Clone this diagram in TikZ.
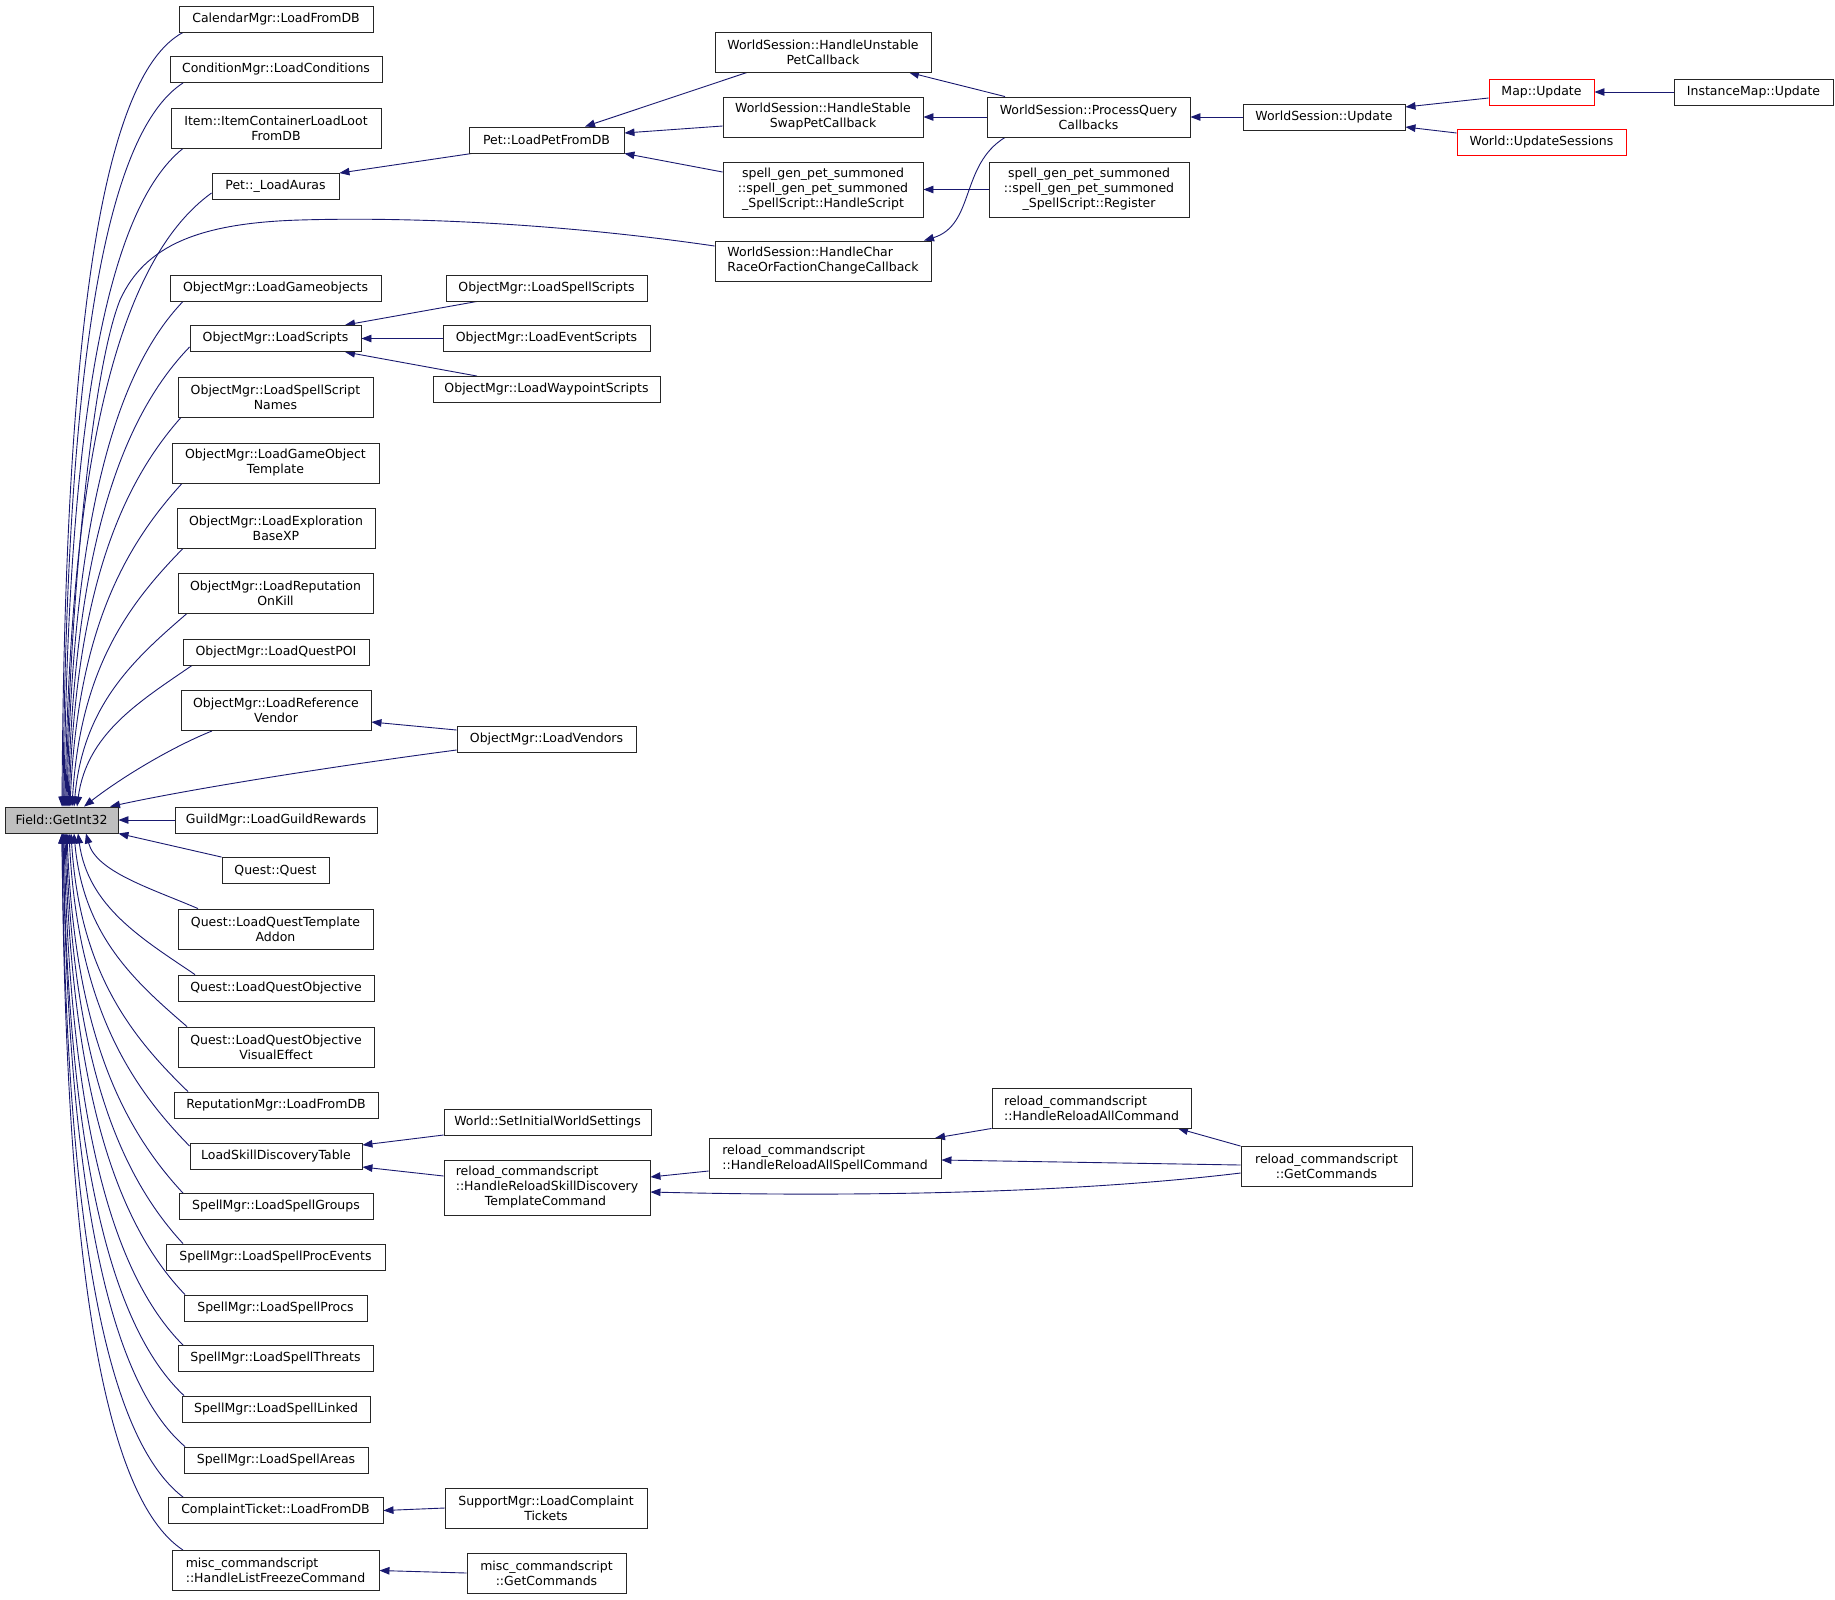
\documentclass[tikz,border=0pt]{standalone}
\usepackage{fontspec}
\setmainfont{DejaVu Sans}
\usetikzlibrary{arrows.meta}
\pgfdeclarelayer{back}
\pgfdeclarelayer{bg}
\pgfsetlayers{back,bg,main}
\definecolor{navy}{RGB}{25,25,112}
\definecolor{gfill}{RGB}{191,191,191}
\newcommand\fanup[3]{%
 \pgfmathsetmacro\fdx{#2-#3}%
 \pgfmathsetmacro\fdy{807-\fsy}%
 \pgfmathsetmacro\ff{\fdy/800}%
 \pgfmathsetmacro\fax{#2-(0.4+0.3*\ff)*\fdx}%
 \pgfmathsetmacro\fay{\fsy+(0.3-0.25*\ff)*\fdy}%
 \pgfmathsetmacro\fbx{#3+(0.1-0.08*\ff)*\fdx}%
 \pgfmathsetmacro\fby{807-(0.5+0.1*\ff)*\fdy}%
 \draw[conn] (#1) .. controls (\fax,\fay) and (\fbx,\fby) .. (get.north -| #3,0);}
\newcommand\fandown[3]{%
 \pgfmathsetmacro\fdx{#2-#3}%
 \pgfmathsetmacro\fdy{\fsy-833}%
 \pgfmathsetmacro\ff{\fdy/800}%
 \pgfmathsetmacro\fax{#2-(0.4+0.3*\ff)*\fdx}%
 \pgfmathsetmacro\fay{\fsy-(0.3-0.25*\ff)*\fdy}%
 \pgfmathsetmacro\fbx{#3+(0.1-0.08*\ff)*\fdx}%
 \pgfmathsetmacro\fby{833+(0.5+0.1*\ff)*\fdy}%
 \draw[conn] (#1) .. controls (\fax,\fay) and (\fbx,\fby) .. (get.south -| #3,0);}
\begin{document}
\begin{tikzpicture}[x=1pt,y=-1pt,
  box/.style={draw=black!85, fill=white, line width=0.9pt, inner sep=0pt, align=center,
    font=\fontsize{12.5}{15}\selectfont},
  hA/.style={minimum height=26pt},
  hB/.style={minimum height=40pt},
  hC/.style={minimum height=55pt},
  redbox/.style={draw=red},
  conn/.style={draw=navy, line width=0.9pt, -{Triangle[length=10pt,width=7.5pt]}}]
\begin{pgfonlayer}{back}
\fill[white] (0,0) rectangle (1835,1599);
\end{pgfonlayer}
\useasboundingbox (0,0) rectangle (1835,1599);
% left column
\node[box,hA,minimum width=113pt,fill=gfill] (get) at (61.5,820) {Field::GetInt32};
\node[box,hA,minimum width=194pt] (cal) at (276,19) {CalendarMgr::LoadFromDB};
\node[box,hA,minimum width=212pt] (cond) at (276,69.5) {ConditionMgr::LoadConditions};
\node[box,hB,minimum width=210pt] (item) at (276,128) {Item::ItemContainerLoadLoot\\FromDB};
\node[box,hA,minimum width=127pt] (aura) at (275.5,186.5) {Pet::\_LoadAuras};
\node[box,hA,minimum width=211pt] (gameobj) at (275.5,288) {ObjectMgr::LoadGameobjects};
\node[box,hA,minimum width=171pt] (scripts) at (275.5,338.5) {ObjectMgr::LoadScripts};
\node[box,hB,minimum width=195pt] (spellnames) at (275.5,397) {ObjectMgr::LoadSpellScript\\Names};
\node[box,hB,minimum width=207pt] (gotemplate) at (275.5,463) {ObjectMgr::LoadGameObject\\Template};
\node[box,hB,minimum width=198pt] (exploration) at (276,528) {ObjectMgr::LoadExploration\\BaseXP};
\node[box,hB,minimum width=195pt] (onkill) at (275.5,593) {ObjectMgr::LoadReputation\\OnKill};
\node[box,hA,minimum width=186pt] (questpoi) at (276,652) {ObjectMgr::LoadQuestPOI};
\node[box,hB,minimum width=190pt] (refvendor) at (276,710.5) {ObjectMgr::LoadReference\\Vendor};
\node[box,hA,minimum width=202pt] (guild) at (276,820) {GuildMgr::LoadGuildRewards};
\node[box,hA,minimum width=107pt] (quest) at (275.5,870.5) {Quest::Quest};
\node[box,hB,minimum width=195pt] (addon) at (275.5,929) {Quest::LoadQuestTemplate\\Addon};
\node[box,hA,minimum width=196pt] (questobj) at (276,988) {Quest::LoadQuestObjective};
\node[box,hB,minimum width=196pt] (visual) at (276,1047) {Quest::LoadQuestObjective\\VisualEffect};
\node[box,hA,minimum width=204pt] (repmgr) at (276,1105) {ReputationMgr::LoadFromDB};
\node[box,hA,minimum width=172pt] (skilltable) at (276,1156) {LoadSkillDiscoveryTable};
\node[box,hA,minimum width=194pt] (groups) at (276,1206.5) {SpellMgr::LoadSpellGroups};
\node[box,hA,minimum width=219pt] (procevents) at (275.5,1257) {SpellMgr::LoadSpellProcEvents};
\node[box,hA,minimum width=183pt] (procs) at (275.5,1308) {SpellMgr::LoadSpellProcs};
\node[box,hA,minimum width=195pt] (threats) at (275.5,1358.5) {SpellMgr::LoadSpellThreats};
\node[box,hA,minimum width=188pt] (linked) at (276,1409) {SpellMgr::LoadSpellLinked};
\node[box,hA,minimum width=184pt] (areas) at (276,1460) {SpellMgr::LoadSpellAreas};
\node[box,hA,minimum width=215pt] (complaint) at (275.5,1510.5) {ComplaintTicket::LoadFromDB};
\node[box,hB,minimum width=207pt,align=left] (freeze) at (275.5,1570.5) {misc\_commandscript\\::HandleListFreezeCommand};
% second column
\node[box,hA,minimum width=155pt] (petdb) at (546.5,140) {Pet::LoadPetFromDB};
\node[box,hA,minimum width=201pt] (spellscripts) at (546.5,288) {ObjectMgr::LoadSpellScripts};
\node[box,hA,minimum width=207pt] (eventscripts) at (546.5,338.5) {ObjectMgr::LoadEventScripts};
\node[box,hA,minimum width=227pt] (waypoint) at (546.5,389.5) {ObjectMgr::LoadWaypointScripts};
\node[box,hA,minimum width=179pt] (vendors) at (546.5,739.5) {ObjectMgr::LoadVendors};
\node[box,hA,minimum width=207pt] (setinitial) at (547.5,1122.5) {World::SetInitialWorldSettings};
\node[box,hC,minimum width=206pt,align=left] (skilldisc) at (547,1187.5) {reload\_commandscript\\::HandleReloadSkillDiscovery\\\hspace*{29pt}TemplateCommand};
\node[box,hB,minimum width=202pt] (support) at (546,1508) {SupportMgr::LoadComplaint\\Tickets};
\node[box,hB,minimum width=159pt] (miscget) at (546.5,1573) {misc\_commandscript\\::GetCommands};
% third column
\node[box,hB,minimum width=216pt] (unstable) at (823,52) {WorldSession::HandleUnstable\\PetCallback};
\node[box,hB,minimum width=200pt] (stable) at (823,117) {WorldSession::HandleStable\\SwapPetCallback};
\node[box,hC,minimum width=200pt] (handlescript) at (823,189.5) {spell\_gen\_pet\_summoned\\::spell\_gen\_pet\_summoned\\\_SpellScript::HandleScript};
\node[box,hB,minimum width=216pt,align=left] (handlechar) at (823,261) {WorldSession::HandleChar\\RaceOrFactionChangeCallback};
\node[box,hB,minimum width=232pt,align=left] (allspell) at (825,1158.5) {reload\_commandscript\\::HandleReloadAllSpellCommand};
% fourth column
\node[box,hB,minimum width=203pt] (processq) at (1088.5,117) {WorldSession::ProcessQuery\\Callbacks};
\node[box,hC,minimum width=200pt] (register) at (1089,189.5) {spell\_gen\_pet\_summoned\\::spell\_gen\_pet\_summoned\\\_SpellScript::Register};
\node[box,hB,minimum width=199pt,align=left] (allcmd) at (1091.5,1108) {reload\_commandscript\\::HandleReloadAllCommand};
% fifth column
\node[box,hA,minimum width=162pt] (wsupdate) at (1324,117) {WorldSession::Update};
\node[box,hB,minimum width=171pt] (getcmds) at (1326.5,1166.5) {reload\_commandscript\\::GetCommands};
% sixth / seventh
\node[box,hA,minimum width=105pt,redbox] (mapupdate) at (1541.5,92) {Map::Update};
\node[box,hA,minimum width=169pt,redbox] (updsessions) at (1541.5,142.5) {World::UpdateSessions};
\node[box,hA,minimum width=159pt] (instmap) at (1753.5,92) {InstanceMap::Update};
\begin{pgfonlayer}{bg}
% fan into Field::GetInt32 from above
\def\fsy{32}\fanup{cal.south west -| 183,0}{183}{62}
\def\fsy{82}\fanup{cond.south west -| 183,0}{183}{63}
\def\fsy{148}\fanup{item.south west -| 183,0}{183}{64}
\def\fsy{193}\fanup{aura.west |- 0,193}{212}{65}
\def\fsy{301}\fanup{gameobj.south west -| 183,0}{183}{67}
\def\fsy{347}\fanup{scripts.west |- 0,347}{190}{68}
\def\fsy{417}\fanup{spellnames.south west -| 181,0}{181}{69}
\def\fsy{483}\fanup{gotemplate.south west -| 182,0}{182}{70}
\def\fsy{548}\fanup{exploration.south west -| 183,0}{183}{72}
\def\fsy{613}\fanup{onkill.south west -| 187,0}{187}{74}
\def\fsy{665}\fanup{questpoi.south west -| 192,0}{192}{77}
\draw[conn] (refvendor.south west -| 212,0) .. controls (172,747) and (122,777) .. (get.north -| 84,0);
\draw[conn] (vendors.west |- 0,750) .. controls (350,764) and (200,787) .. (get.north -| 110,0);
\draw[conn] (handlechar.west |- 0,246) .. controls (550,222) and (400,217) .. (300,220)
   .. controls (200,223) and (145,245) .. (120,300) .. controls (92,370) and (70,600) .. (get.north -| 66,0);
% fan into Field::GetInt32 from below
\draw[conn] (guild.west) -- (get.east);
\draw[conn] (quest.north west) -- (get.south east);
\def\fsy{909}\fandown{addon.north west -| 198,0}{198}{86}
\def\fsy{975}\fandown{questobj.north west -| 195,0}{195}{78}
\def\fsy{1027}\fandown{visual.north west -| 187,0}{187}{74}
\def\fsy{1092}\fandown{repmgr.north west -| 188,0}{188}{71}
\def\fsy{1146}\fandown{skilltable.west |- 0,1146}{190}{69}
\def\fsy{1194}\fandown{groups.north west -| 183,0}{183}{67}
\def\fsy{1244}\fandown{procevents.north west -| 183,0}{183}{66}
\def\fsy{1295}\fandown{procs.north west -| 185,0}{185}{65}
\def\fsy{1346}\fandown{threats.north west -| 183,0}{183}{64}
\def\fsy{1396}\fandown{linked.north west -| 184,0}{184}{63}
\def\fsy{1447}\fandown{areas.north west -| 185,0}{185}{63}
\def\fsy{1498}\fandown{complaint.north west -| 183,0}{183}{62}
\def\fsy{1551}\fandown{freeze.north west -| 183,0}{183}{62}
% upper right part
\draw[conn] (petdb.south west -| 472,0) -- (aura.north east);
\draw[conn] (unstable.south -| 747,0) -- (petdb.north -| 585,0);
\draw[conn] (stable.west |- 0,126) -- (petdb.east |- 0,133);
\draw[conn] (handlescript.west |- 0,172) -- (petdb.south east);
\draw[conn] (processq.north -| 1005,0) -- (unstable.south -| 909,0);
\draw[conn] (processq.west) -- (stable.east);
\draw[conn] (register.west) -- (handlescript.east);
\draw[conn] (processq.south -| 1005,0) .. controls (960,165) and (975,225) .. (handlechar.north -| 924,0);
\draw[conn] (wsupdate.west) -- (processq.east);
\draw[conn] (mapupdate.west |- 0,98) -- (wsupdate.east |- 0,107);
\draw[conn] (updsessions.west |- 0,133) -- (wsupdate.east |- 0,127);
\draw[conn] (instmap.west) -- (mapupdate.east);
% scripts
\draw[conn] (spellscripts.south west -| 477,0) -- (scripts.north east -| 345,0);
\draw[conn] (eventscripts.west) -- (scripts.east);
\draw[conn] (waypoint.north west -| 477,0) -- (scripts.south east -| 345,0);
% vendors
\draw[conn] (vendors.west |- 0,730) -- (refvendor.east |- 0,722);
% skill discovery
\draw[conn] (setinitial.west |- 0,1135) -- (skilltable.east |- 0,1145);
\draw[conn] (skilldisc.west |- 0,1176) -- (skilltable.east |- 0,1167);
\draw[conn] (allspell.west |- 0,1171) -- (skilldisc.east |- 0,1177);
\draw[conn] (getcmds.west |- 0,1173) .. controls (1100,1190) and (900,1198) .. (skilldisc.east |- 0,1192);
\draw[conn] (getcmds.west |- 0,1165) -- (allspell.east |- 0,1160);
\draw[conn] (allcmd.south west) -- (allspell.north east -| 935,0);
\draw[conn] (getcmds.north west) -- (allcmd.south -| 1178,0);
% bottom
\draw[conn] (support.west) -- (complaint.east);
\draw[conn] (miscget.west) -- (freeze.east);
\end{pgfonlayer}
\end{tikzpicture}
\end{document}
